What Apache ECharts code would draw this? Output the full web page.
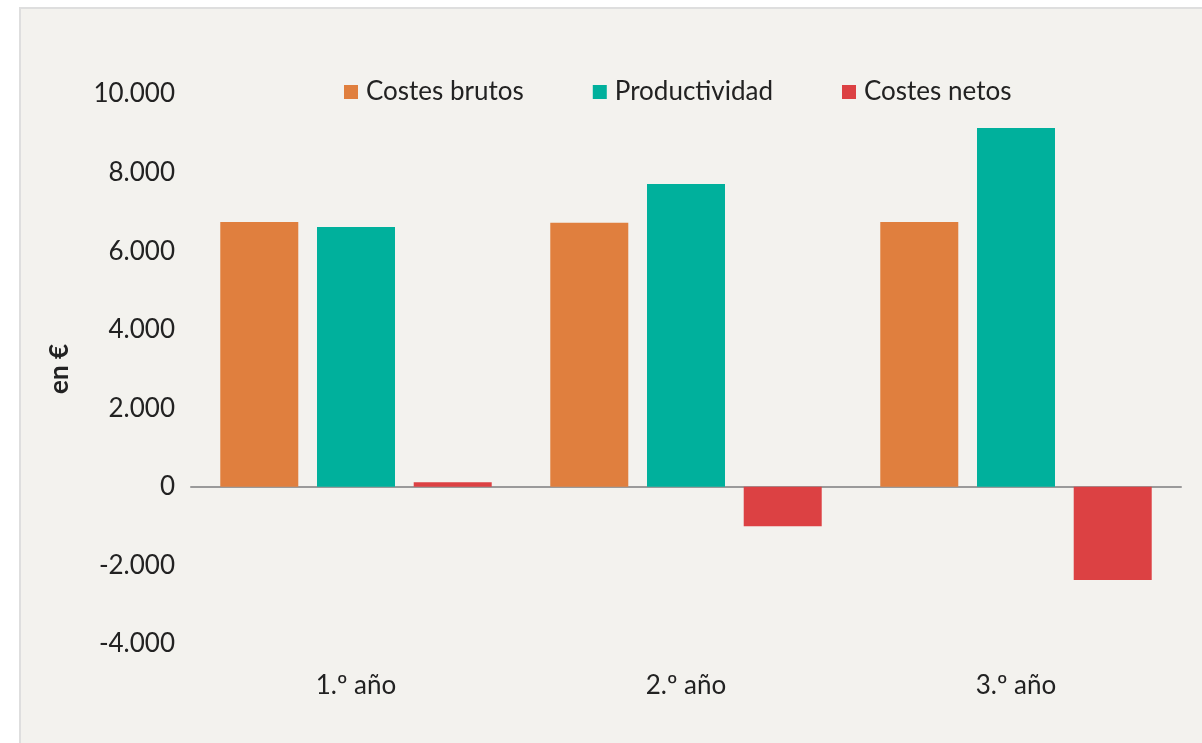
<!DOCTYPE html>
<html><head><meta charset="utf-8">
<script src="https://cdn.jsdelivr.net/npm/echarts@6/dist/echarts.min.js"></script>
<style>
html,body{margin:0;padding:0;background:#fff;}
#panel{position:absolute;left:19px;top:7px;width:1200px;height:760px;border-left:2px solid #dedede;border-top:2px solid #dedede;background:#f3f2ee;}
#c{position:absolute;left:0;top:0;width:1202px;height:743px;}
</style></head>
<body>
<div id="panel"></div>
<div id="c"></div>
<script>
const categories = ['1.º año', '2.º año', '3.º año'];
const costesBrutos = [6740, 6720, 6745];
const productividad = [6615, 7710, 9135];
const costesNetos = [115, -1000, -2370];
const yTicks = {min: -4000, max: 10000, interval: 2000};

const chart = echarts.init(document.getElementById('c'), null, {renderer: 'canvas'});
const font = 'Lato, "Open Sans", sans-serif';
chart.setOption({
  backgroundColor: 'transparent',
  textStyle: {fontFamily: font},
  legend: {
    left: 339, top: 74,
    itemWidth: 14, itemHeight: 14, itemGap: 69,
    icon: 'rect',
    textStyle: {fontSize: 26, color: '#222', fontFamily: font, padding: [0,0,0,3]},
    data: ['Costes brutos', 'Productividad', 'Costes netos']
  },
  grid: {left: 191, right: 21, top: 94, bottom: 99},
  xAxis: [{
    type: 'category', data: categories,
    axisLine: {show: true, onZero: true, lineStyle: {color: '#9a9a9a', width: 2}},
    axisTick: {show: false}, axisLabel: {show: false}
  }, {
    type: 'category', data: categories, position: 'bottom',
    axisLine: {show: false, onZero: false}, axisTick: {show: false},
    axisLabel: {fontSize: 26, color: '#222', margin: 29, fontFamily: font}
  }],
  yAxis: {
    type: 'value', min: yTicks.min, max: yTicks.max, interval: yTicks.interval,
    name: 'en €', nameLocation: 'middle', nameGap: 118, nameRotate: 90,
    nameTextStyle: {fontSize: 26, fontWeight: 'bold', color: '#222', fontFamily: font},
    axisLine: {show: false}, axisTick: {show: false}, splitLine: {show: false},
    axisLabel: {fontSize: 26, color: '#222', margin: 16, fontFamily: font,
      formatter: v => v === 0 ? '0' : (v < 0 ? '-' : '') + Math.abs(v).toLocaleString('de-DE')}
  },
  series: [
    {name: 'Costes brutos', type: 'bar', data: costesBrutos, barWidth: 78, barGap: '24%', barCategoryGap: '17.6%', itemStyle: {color: '#e07f3e'}},
    {name: 'Productividad', type: 'bar', data: productividad, barWidth: 78, barGap: '24%', itemStyle: {color: '#00b09c'}},
    {name: 'Costes netos', type: 'bar', data: costesNetos, barWidth: 78, barGap: '24%', itemStyle: {color: '#dc4143'}}
  ]
});
</script>
</body></html>
